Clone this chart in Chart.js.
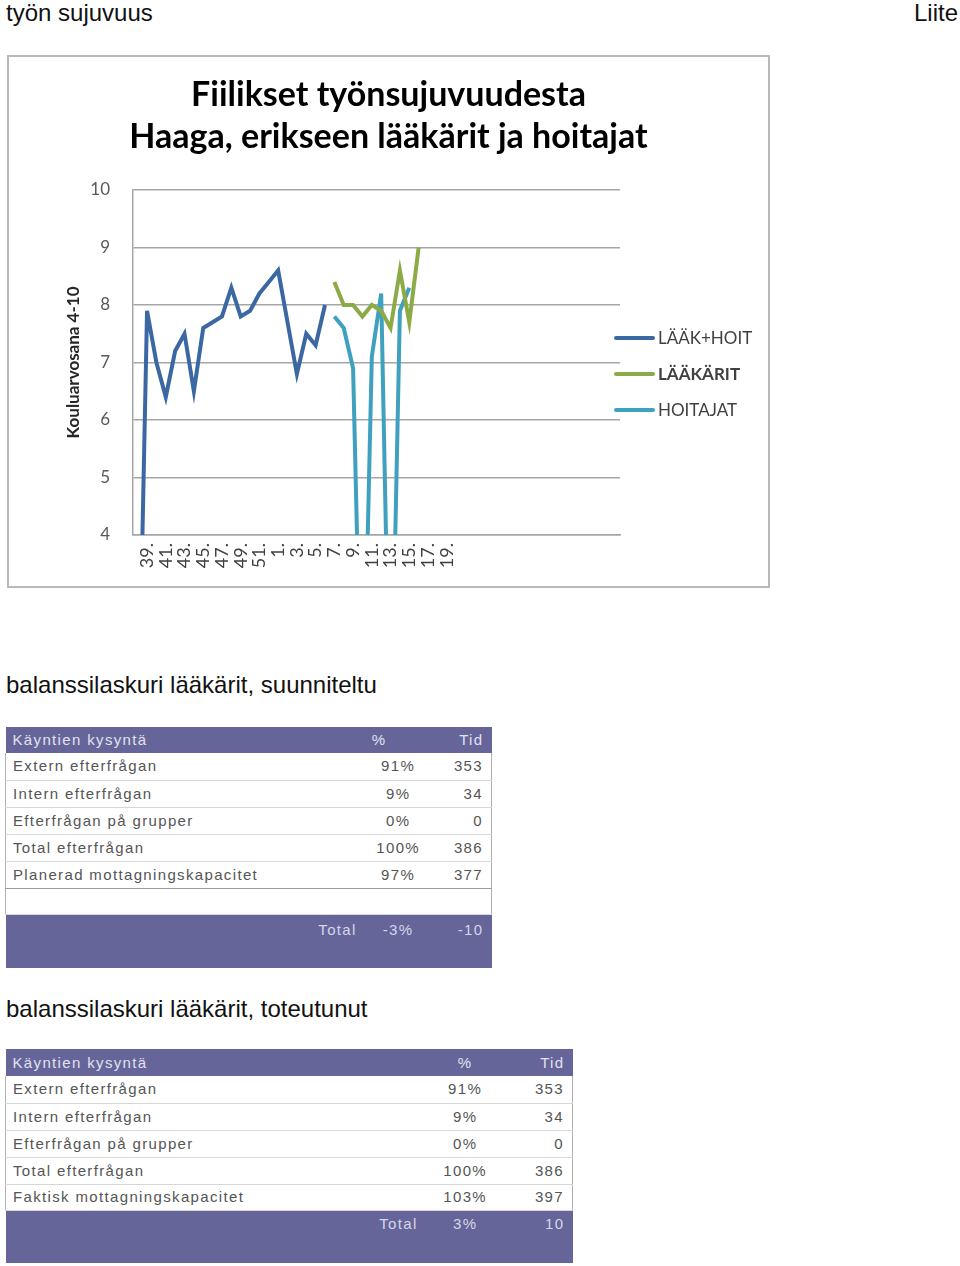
<!DOCTYPE html>
<html>
<head>
<meta charset="utf-8">
<title>työn sujuvuus</title>
<script src="https://cdn.jsdelivr.net/npm/chart.js@4.4.0/dist/chart.umd.min.js"></script>
<style>
    body {
        margin: 0;
        width: 960px;
        height: 1266px;
        position: relative;
        overflow: hidden;
        background: #fff;
        font-family: "Liberation Sans", Arial, sans-serif;
        color: #111;
    }
    .heading {
        position: absolute;
        left: 6px;
        font-size: 24px;
        line-height: 26px;
        white-space: nowrap;
    }
    .chart-box {
        position: absolute;
        left: 7px;
        top: 55px;
        width: 763px;
        height: 533px;
        box-sizing: border-box;
        border: 2px solid #b9b9b9;
    }
    .chart-box canvas {
        display: block;
    }
    .legend {
        position: absolute;
        left: 614px;
        top: 326px;
        font-family: Lato, sans-serif;
        font-size: 17px;
        color: #404040;
    }
    .legend-item {
        height: 36px;
        line-height: 24px;
        display: flex;
        align-items: flex-start;
    }
    .legend-line {
        width: 41px;
        height: 4px;
        margin-top: 10px;
        margin-right: 3px;
        border-radius: 2px;
    }
    table.bal {
        position: absolute;
        left: 5px;
        border-collapse: collapse;
        font-size: 15px;
        letter-spacing: 1.35px;
        color: #555;
    }
    table.bal td {
        padding: 0 8px 0 7px;
        height: 26px;
        line-height: 18px;
        border-bottom: 1px solid #d6d6d6;
        white-space: nowrap;
        box-sizing: border-box;
    }
    table.bal tr.body td:first-child { border-left: 1px solid #b0b0b0; }
    table.bal tr.body td:last-child { border-right: 1px solid #b0b0b0; }
    table.bal tr.head td {
        background: #65659a;
        color: #e2e2ee;
        border-bottom: none;
    }
    table.bal tr.foot td {
        background: #65659a;
        color: #d6d6e6;
        border-bottom: none;
        vertical-align: top;
    }
    table.bal td.pct { text-align: center; }
    table.bal td.tid { text-align: right; }
</style>
</head>
<body>

<div class="heading" style="top:0">työn sujuvuus</div>
<div class="heading" style="top:0; left:auto; right:2px">Liite</div>

<div class="chart-box">
    <canvas id="moodChart" width="759" height="529"></canvas>
</div>
<div class="legend" id="moodLegend"></div>

<div class="heading" style="top:672px">balanssilaskuri lääkärit, suunniteltu</div>
<table class="bal" style="top:727px; width:487px">
    <colgroup><col style="width:353px"><col style="width:82px"><col style="width:52px"></colgroup>
    <tr class="head"><td>Käyntien kysyntä</td><td style="padding-left:14px">%</td><td class="tid">Tid</td></tr>
    <tr class="body" style="height:27px"><td>Extern efterfrågan</td><td class="pct">91%</td><td class="tid">353</td></tr>
    <tr class="body" style="height:27px"><td>Intern efterfrågan</td><td class="pct">9%</td><td class="tid">34</td></tr>
    <tr class="body" style="height:27px"><td>Efterfrågan på grupper</td><td class="pct">0%</td><td class="tid">0</td></tr>
    <tr class="body" style="height:27px"><td>Total efterfrågan</td><td class="pct">100%</td><td class="tid">386</td></tr>
    <tr class="body" style="height:27px"><td style="border-bottom-color:#9a9a9a">Planerad mottagningskapacitet</td><td class="pct" style="border-bottom-color:#9a9a9a">97%</td><td class="tid" style="border-bottom-color:#9a9a9a">377</td></tr>
    <tr class="body" style="height:25px"><td></td><td></td><td></td></tr>
    <tr class="foot"><td style="height:54px; padding-top:6px; text-align:right; padding-right:1px">Total</td><td class="pct" style="padding-top:6px">-3%</td><td class="tid" style="padding-top:6px">-10</td></tr>
</table>

<div class="heading" style="top:996px">balanssilaskuri lääkärit, toteutunut</div>
<table class="bal" style="top:1049px; width:568px">
    <colgroup><col style="width:420px"><col style="width:82px"><col style="width:66px"></colgroup>
    <tr class="head"><td style="height:27px">Käyntien kysyntä</td><td class="pct">%</td><td class="tid">Tid</td></tr>
    <tr class="body" style="height:27px"><td>Extern efterfrågan</td><td class="pct">91%</td><td class="tid">353</td></tr>
    <tr class="body" style="height:27px"><td>Intern efterfrågan</td><td class="pct">9%</td><td class="tid">34</td></tr>
    <tr class="body" style="height:27px"><td>Efterfrågan på grupper</td><td class="pct">0%</td><td class="tid">0</td></tr>
    <tr class="body" style="height:27px"><td>Total efterfrågan</td><td class="pct">100%</td><td class="tid">386</td></tr>
    <tr class="body" style="height:26px"><td>Faktisk mottagningskapacitet</td><td class="pct">103%</td><td class="tid">397</td></tr>
    <tr class="foot"><td style="height:53px; padding-top:4px; text-align:right; padding-right:7px">Total</td><td class="pct" style="padding-top:4px">3%</td><td class="tid" style="padding-top:4px">10</td></tr>
</table>

<script>
// Weeks on the category axis (autumn -> spring); later slots have no label
const weekLabels = [
    '38.', '39.', '40.', '41.', '42.', '43.', '44.', '45.', '46.', '47.', '48.', '49.', '50.', '51.', '52.',
    '1.', '2.', '3.', '4.', '5.', '6.', '7.', '8.', '9.', '10.', '11.', '12.', '13.', '14.', '15.',
    '16.', '17.', '18.', '19.', '20.',
    '', '', '', '', '', '', '', '', '', '', '', '', '', '', '', '', ''
];

// School grades 4-10, weekly averages (0 = no answers that week)
const laakHoit = [0, 7.9, 7.0, 6.4, 7.2, 7.5, 6.5, 7.6, 7.7, 7.8, 8.3, 7.8, 7.9, 8.2, 8.4,
    8.6, 7.7, 6.8, 7.5, 7.3, 8.0];
const laakarit = [null, null, null, null, null, null, null, null, null, null, null, null, null, null, null,
    null, null, null, null, null, null,
    8.4, 8.0, 8.0, 7.8, 8.0, 7.9, 7.6, 8.6, 7.7, 9.0];
const hoitajat = [null, null, null, null, null, null, null, null, null, null, null, null, null, null, null,
    null, null, null, null, null, null,
    7.8, 7.6, 6.9, 0, 7.1, 8.2, 0, 7.9, 8.3];

const gradeTicks = [4, 5, 6, 7, 8, 9, 10];

const seriesNames = ['LÄÄK+HOIT', 'LÄÄKÄRIT', 'HOITAJAT'];
const seriesColors = ['#3b68a3', '#8cab47', '#40a0bf'];

document.addEventListener('DOMContentLoaded', function() {
    const chart = initializeChart();
    buildLegend(chart);
});

function initializeChart() {
    const ctx = document.getElementById('moodChart');
    const seriesData = [laakHoit, laakarit, hoitajat];

    const datasets = seriesData.map((data, i) => ({
        label: seriesNames[i],
        data: data,
        borderColor: seriesColors[i],
        backgroundColor: seriesColors[i],
        borderWidth: 4,
        pointRadius: 0,
        tension: 0,
        spanGaps: false,
        clip: 0
    }));

    return new Chart(ctx, {
        type: 'line',
        data: { labels: weekLabels, datasets: datasets },
        options: {
            responsive: false,
            animation: false,
            layout: { padding: 0 },
            plugins: {
                legend: { display: false },
                tooltip: { enabled: false },
                title: {
                    display: true,
                    text: ['Fiilikset työnsujuvuudesta', 'Haaga, erikseen lääkärit ja hoitajat'],
                    color: '#000',
                    font: { family: 'Lato', size: 34, weight: 'bold', lineHeight: 1.235 },
                    padding: { top: 17, bottom: 32 }
                }
            },
            scales: {
                x: {
                    type: 'category',
                    offset: true,
                    grid: { display: false, drawTicks: false },
                    border: { display: true, color: '#a6a6a6', width: 1.5 },
                    ticks: {
                        autoSkip: false,
                        minRotation: 90,
                        maxRotation: 90,
                        padding: 8,
                        color: '#404040',
                        font: { family: 'Lato', size: 18 },
                        callback: function(value, index) {
                            return index % 2 === 1 ? weekLabels[index] : '';
                        }
                    },
                    afterFit: function(scale) { scale.height = 51; }
                },
                y: {
                    min: gradeTicks[0],
                    max: gradeTicks[gradeTicks.length - 1],
                    grid: { color: '#a6a6a6', lineWidth: 1.5, drawTicks: false },
                    border: { display: true, color: '#a6a6a6', width: 1.5 },
                    afterBuildTicks: function(scale) {
                        scale.ticks = gradeTicks.map(v => ({ value: v }));
                    },
                    ticks: {
                        padding: 23,
                        color: '#595959',
                        font: { family: 'Lato', size: 17 }
                    },
                    title: {
                        display: true,
                        text: 'Kouluarvosana 4-10',
                        color: '#262626',
                        font: { family: 'Lato', size: 17, weight: 'bold', lineHeight: 1.2 },
                        padding: { top: 54, bottom: 0 }
                    },
                    afterFit: function(scale) { scale.width = 124; }
                },
                // empty strip on the right where the legend sits
                legendSpace: {
                    type: 'linear',
                    position: 'right',
                    grid: { display: false, drawTicks: false },
                    border: { display: false },
                    ticks: { display: false },
                    afterFit: function(scale) { scale.width = 148; }
                }
            }
        }
    });
}

function buildLegend(chart) {
    const legend = document.getElementById('moodLegend');
    chart.data.datasets.forEach((ds, i) => {
        const item = document.createElement('div');
        item.className = 'legend-item';
        const line = document.createElement('span');
        line.className = 'legend-line';
        line.style.background = ds.borderColor;
        const text = document.createElement('span');
        text.textContent = ds.label;
        if (i === 1) text.style.fontWeight = 'bold';
        item.appendChild(line);
        item.appendChild(text);
        legend.appendChild(item);
    });
}
</script>
</body>
</html>
